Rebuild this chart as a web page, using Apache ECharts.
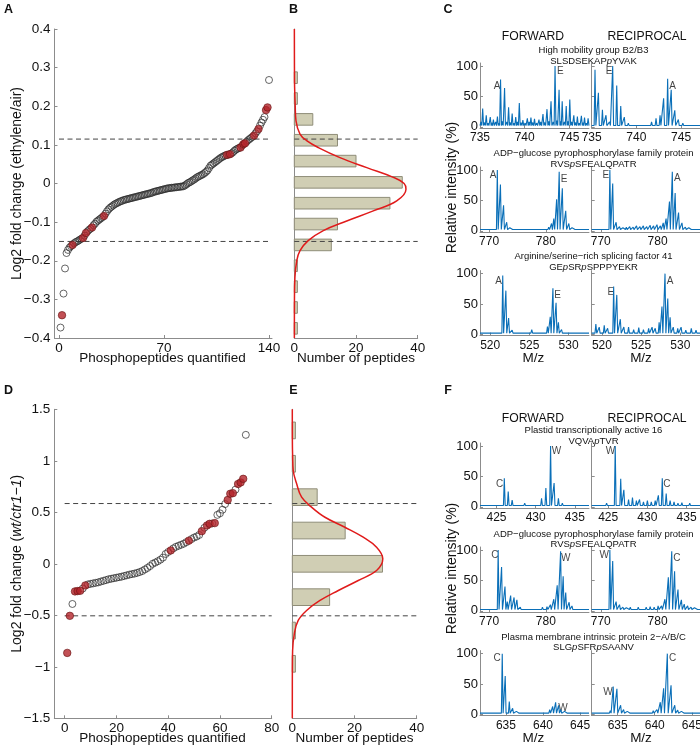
<!DOCTYPE html>
<html>
<head>
<meta charset="utf-8">
<script src="https://cdn.jsdelivr.net/npm/echarts@6/dist/echarts.min.js"></script>
<style>
html, body { margin: 0; padding: 0; background: #fff; }
#main { width: 700px; height: 747px; }
</style>
</head>
<body>
<div id="main"></div>
<script>
// ---- panel A : sorted log2 ratios (ethylene/air), index 1..140
var aVals = [-0.373,-0.341,-0.285,-0.220,-0.180,-0.172,-0.166,-0.162,-0.159,-0.155,
  -0.152,-0.150,-0.148,-0.145,-0.143,-0.141,-0.135,-0.128,-0.124,-0.120,
  -0.117,-0.114,-0.108,-0.104,-0.099,-0.096,-0.093,-0.090,-0.087,-0.084,
  -0.078,-0.072,-0.067,-0.063,-0.060,-0.057,-0.054,-0.052,-0.050,-0.048,
  -0.046,-0.045,-0.043,-0.042,-0.041,-0.040,-0.039,-0.038,-0.037,-0.036,
  -0.035,-0.034,-0.033,-0.032,-0.031,-0.030,-0.029,-0.028,-0.027,-0.026,
  -0.025,-0.024,-0.022,-0.021,-0.020,-0.019,-0.018,-0.017,-0.016,-0.015,
  -0.014,-0.013,-0.012,-0.012,-0.011,-0.011,-0.010,-0.010,-0.009,-0.009,
  -0.008,-0.008,-0.007,-0.005,-0.002,0.001,0.003,0.005,0.008,0.010,
  0.013,0.016,0.018,0.020,0.022,0.024,0.027,0.030,0.034,0.040,
  0.046,0.049,0.052,0.055,0.058,0.061,0.064,0.067,0.069,0.071,
  0.073,0.074,0.075,0.076,0.078,0.081,0.085,0.088,0.090,0.092,
  0.093,0.098,0.102,0.104,0.108,0.112,0.115,0.118,0.121,0.124,
  0.130,0.135,0.141,0.150,0.158,0.165,0.172,0.190,0.197,0.268];
var aRed = [2, 9, 16, 18, 22, 30, 112, 114, 121, 123, 124, 130, 133, 138, 139];
var aThr = [0.115, -0.15];
var aXTicks = [0, 70, 140];
var aYTicks = [-0.4, -0.3, -0.2, -0.1, 0, 0.1, 0.2, 0.3, 0.4];

// ---- panel B : histogram of A
var bBins = [0.274, 0.220, 0.166, 0.112, 0.058, 0.003, -0.051, -0.105, -0.159, -0.213, -0.267, -0.321, -0.375];
var bCounts = [1, 1, 6, 14, 20, 35, 31, 14, 12, 1, 1, 1, 1];
var bFitCount = [0.02, 0.05, 0.1, 0.3, 0.55, 1.85, 4.0, 7.8, 14.8, 23.5, 32.1, 35.6, 36.2, 33.2, 25.6, 17.0, 9.4, 4.5, 1.85, 0.8, 0.2, 0.05, 0.02];
var bFitValue = [0.40, 0.30, 0.25, 0.20, 0.162, 0.128, 0.111, 0.093, 0.067, 0.041, 0.016, 0.0, -0.015, -0.045, -0.071, -0.097, -0.122, -0.148, -0.174, -0.200, -0.243, -0.30, -0.40];
var bXTicks = [0, 20, 40];

// ---- panel D : sorted log2 ratios (wt/ctr1-1), index 1..70
var dVals = [-0.865,-0.505,-0.390,-0.268,-0.265,-0.262,-0.240,-0.210,-0.200,-0.195,
  -0.190,-0.185,-0.180,-0.172,-0.165,-0.158,-0.150,-0.145,-0.140,-0.135,
  -0.130,-0.125,-0.118,-0.112,-0.105,-0.100,-0.095,-0.088,-0.080,-0.070,
  -0.055,-0.040,-0.022,0.000,0.012,0.025,0.040,0.060,0.095,0.115,
  0.130,0.150,0.165,0.175,0.185,0.195,0.210,0.225,0.240,0.255,
  0.265,0.280,0.317,0.350,0.372,0.388,0.392,0.395,0.475,0.490,
  0.525,0.580,0.620,0.680,0.686,0.720,0.775,0.790,0.825,1.252];
var dRed = [1, 2, 4, 5, 6, 8, 41, 48, 53, 55, 56, 58, 63, 64, 65, 67, 68, 69];
var dThr = [0.585, -0.505];
var dXTicks = [0, 20, 40, 60, 80];
var dYTicks = [-1.5, -1, -0.5, 0, 0.5, 1, 1.5];

// ---- panel E : histogram of D
var eBins = [1.295, 0.971, 0.647, 0.323, 0.0, -0.324, -0.648, -0.971];
var eCounts = [1, 1, 8, 17, 29, 12, 1, 1];
var eFitCount = [0, 0.02, 0.1, 0.3, 1.4, 3.0, 6.2, 10.5, 16.9, 22.8, 27.1, 29.1, 27.1, 21.2, 14.8, 8.9, 4.6, 1.9, 0.65, 0.1, 0.02, 0];
var eFitValue = [1.5, 1.2, 1.05, 0.906, 0.777, 0.647, 0.55, 0.452, 0.355, 0.258, 0.161, 0.049, -0.065, -0.162, -0.259, -0.356, -0.453, -0.55, -0.68, -0.842, -1.036, -1.5];
var eXTicks = [0, 20, 40];

// ---- spectra, panel C
var specYTicks = [0, 50, 100];
var c1Range = [735, 747.2], c1Ticks = [735, 740, 745];
var c1fMz = [735.1,735.3,735.5,735.7,735.9,736.15,736.3,736.5,736.75,736.95,737.1,737.3,737.5,737.75,738.0,738.2,738.4,738.6,738.8,739.0,739.2,739.4,739.6,739.8,740.05,740.3,740.5,740.7,740.9,741.1,741.35,741.6,741.8,742.05,742.25,742.5,742.7,742.95,743.2,743.4,743.6,743.85,744.0,744.2,744.45,744.65,744.85,745.05,745.25,745.5,745.7,745.9,746.1,746.35,746.5,746.7,746.9,747.1];
var c1fInt = [8,30,7,19,6,16,7,12,8,17,6,78,9,64,8,32,7,22,6,16,8,39,7,11,6,14,8,15,7,13,6,12,8,21,7,29,9,42,8,100,10,61,9,42,8,34,9,45,8,19,7,17,6,18,7,15,6,14];
var c1fLab = [[736.9, 67, 'A'], [744.0, 92, 'E']];
var c1rMz = [735.37,735.75,736.2,736.6,737.0,737.35,737.8,738.25,738.65,739.1,739.6,740.1,740.6,741.1,741.7,742.2,742.65,743.05,743.5,743.9,744.3,744.7,745.2,745.7,746.2,746.7,747.1];
var c1rInt = [94,56,28,19,8,100,68,34,16,6,5,4,5,4,8,14,19,47,79,61,27,12,6,5,4,5,4];
var c1rLab = [[736.95, 92, 'E'], [744.05, 67, 'A']];

var c2Range = [768.4, 787.6], c2Ticks = [770, 780];
var c2fMz = [769.0,769.8,770.6,771.45,772.0,772.55,773.1,773.65,774.3,775.0,776.0,777.0,778.0,778.8,779.4,780.0,780.5,781.0,781.4,781.9,782.35,782.9,783.5,784.05,784.6,785.3,786.2,787.0];
var c2fInt = [3,4,3,100,76,42,14,5,3,4,3,3,4,3,5,4,6,12,20,52,97,70,33,12,5,3,3,3];
var c2fLab = [[770.7, 92, 'A'], [783.2, 85, 'E']];
var c2rMz = [769.0,769.8,770.7,771.6,772.1,772.7,773.3,773.9,774.5,775.1,775.7,776.3,776.9,777.5,778.1,778.7,779.3,779.9,780.5,781.0,781.5,782.1,782.6,783.1,783.7,784.3,784.9,785.5,786.1,786.8,787.4];
var c2rInt = [4,5,4,100,78,14,7,5,6,7,6,8,7,8,7,9,8,10,8,13,20,48,97,62,30,13,6,5,4,5,4];
var c2rLab = [[770.9, 92, 'E'], [783.5, 87, 'A']];

var c3Range = [518.7, 532.6], c3Ticks = [520, 525, 530];
var c3fMz = [519.2,519.8,520.4,521.0,521.6,522.0,522.35,522.8,523.3,524.0,524.7,525.3,526.0,526.7,527.3,527.66,528.0,528.4,528.7,529.1,529.6,530.3,531.0,531.7,532.3];
var c3fInt = [3,4,3,4,97,72,27,7,4,3,4,8,3,5,13,29,76,52,20,8,4,3,4,3,3];
var c3fLab = [[521.06, 88, 'A'], [528.6, 65, 'E']];
var c3rMz = [519.23,519.66,520.3,520.73,521.5,521.9,522.35,522.8,523.4,524.05,524.7,525.3,525.96,526.4,526.8,527.3,527.66,528.05,528.4,528.7,529.1,529.67,530.1,530.7,531.4,532.0];
var c3rInt = [17,12,15,10,79,65,25,12,12,8,11,8,10,12,10,20,46,100,59,28,12,10,12,7,10,7];
var c3rLab = [[521.15, 70, 'E'], [528.7, 88, 'A']];

// ---- spectra, panel F
var f1Range = [422.9, 436.8], f1Ticks = [425, 430, 435];
var f1fMz = [423.3,423.8,424.4,425.0,425.5,426.0,426.5,427.0,427.5,428.0,428.6,429.1,429.6,430.2,430.75,431.3,431.9,432.35,432.9,433.4,433.9,434.5,435.1,435.7,436.3];
var f1fInt = [4,3,4,3,5,47,25,11,5,3,6,4,3,5,14,31,100,39,14,6,4,3,4,3,4];
var f1fLab = [[425.4, 37, 'C'], [432.65, 91, 'W']];
var f1rMz = [423.3,423.8,424.3,424.8,425.3,425.9,426.6,427.0,427.6,428.1,428.6,429.0,429.5,430.0,430.5,431.0,431.4,431.9,432.4,432.9,433.4,433.9,434.4,434.9,435.4,435.9,436.4];
var f1rInt = [4,5,4,6,5,100,46,28,12,15,10,12,8,10,8,10,19,47,22,10,8,6,7,5,6,5,5];
var f1rLab = [[425.3, 91, 'W'], [432.5, 37, 'C']];

var f2Range = [768.4, 787.6], f2Ticks = [770, 780];
var f2fMz = [769.0,769.8,770.6,771.6,772.2,772.8,773.2,773.8,774.4,774.9,775.5,776.2,777.0,777.8,778.6,779.4,780.2,780.8,781.4,782.0,782.6,783.05,783.5,784.1,784.6,785.3,786.0,786.8,787.3];
var f2fInt = [4,3,4,100,72,40,15,25,22,18,6,4,5,4,5,6,7,10,19,42,98,57,30,14,8,5,4,3,4];
var f2fLab = [[771.0, 91, 'C'], [783.5, 87, 'W']];
var f2rMz = [769.0,769.8,770.7,771.6,772.1,772.7,773.3,773.9,774.5,775.2,775.9,776.6,777.3,778.0,778.7,779.4,780.1,780.7,781.3,781.9,782.5,783.0,783.6,784.2,784.7,785.3,785.9,786.5,787.2];
var f2rInt = [4,5,4,100,82,15,10,6,5,6,5,6,5,6,7,6,8,8,19,55,98,65,35,18,11,8,6,5,4];
var f2rLab = [[770.6, 91, 'W'], [783.4, 87, 'C']];

var f3Range = [631.5, 646.2], f3Ticks = [635, 640, 645];
var f3fMz = [632.0,632.5,633.0,633.6,634.1,634.5,634.9,635.45,635.9,636.4,636.9,637.5,638.1,638.7,639.3,639.9,640.5,640.9,641.3,641.7,642.1,642.4,642.9,643.4,644.0,644.6,645.2,645.8];
var f3fInt = [4,3,4,3,5,100,63,21,10,5,4,3,4,3,4,3,5,8,13,20,15,8,5,4,3,4,3,4];
var f3fLab = [[633.8, 92, 'C'], [642.7, 10, 'W']];
var f3rMz = [632.0,632.5,633.0,633.5,634.0,634.4,634.9,635.4,635.8,636.3,636.8,637.3,637.8,638.3,638.8,639.3,639.8,640.3,640.75,641.2,641.7,642.2,642.7,643.1,643.6,644.1,644.6,645.1,645.7];
var f3rInt = [4,5,4,5,6,46,42,15,8,5,4,5,4,5,4,5,6,8,20,43,100,48,15,7,5,4,5,4,4];
var f3rLab = [[633.7, 37, 'W'], [642.4, 92, 'C']];

// ---- styling
var FONT = '"Liberation Sans", Arial, Helvetica, sans-serif';
var AXIS = '#8c8c8c';
var TXT = '#111';
var RED_DOT = '#b3242a';
var BAR = '#d0ceb4';
var BAR_EDGE = '#8f8d78';
var FIT = '#e01b1b';
var SPEC = '#0a6fb8';
var BASE = 2;        // spectrum baseline (%)
var PW_FRAC = 0.008; // half width of a profile peak, as a fraction of the m/z window

function fmt(v) {
    return String(Math.round(v * 100) / 100).replace('-', '\u2212');
}

function gridOf(left, top, width, height) {
    return {left: left, top: top, width: width, height: height, containLabel: false, outerBoundsMode: 'none'};
}

function vAxis(gi, min, max, ticks, o) {
    o = o || {};
    return {
        type: 'value', gridIndex: gi, min: min, max: max,
        axisLine: {show: true, onZero: false, lineStyle: {color: AXIS, width: 1}},
        axisTick: {show: !!ticks, inside: true, length: 3, customValues: ticks || undefined, lineStyle: {color: AXIS}},
        axisLabel: {show: !!ticks && !o.noLabel, customValues: ticks || undefined, margin: o.margin == null ? 4 : o.margin,
            fontSize: o.fs || 13.5, color: TXT, fontFamily: FONT, formatter: fmt},
        splitLine: {show: false}
    };
}

function trace(mz, inten, range) {
    var pw = (range[1] - range[0]) * PW_FRAC;
    var pts = [[range[0], BASE]];
    for (var i = 0; i < mz.length; i++) {
        pts.push([mz[i] - pw, BASE], [mz[i], inten[i]], [mz[i] + pw, BASE]);
    }
    pts.push([range[1], BASE]);
    return pts;
}

var grids = [
    gridOf(54.5, 29, 217.5, 309),     // A
    gridOf(294.3, 29, 123.4, 309),    // B
    gridOf(54.3, 409.3, 217.4, 309),  // D
    gridOf(292.3, 409.3, 124.4, 309)  // E
];
var xAxes = [
    vAxis(0, -3, 142, aXTicks, {margin: 3}),
    vAxis(1, 0, 40, bXTicks, {margin: 3}),
    vAxis(2, -4, 80, dXTicks, {margin: 3}),
    vAxis(3, 0, 40, eXTicks, {margin: 3})
];
var yAxes = [
    vAxis(0, -0.4, 0.4, aYTicks),
    vAxis(1, -0.4, 0.4, null),
    vAxis(2, -1.5, 1.5, dYTicks),
    vAxis(3, -1.5, 1.5, null)
];

var series = [];

function histPanel(gi, bins, counts, half, fitC, fitV, thr, xmax) {
    series.push({
        type: 'custom', xAxisIndex: gi, yAxisIndex: gi, z: 2,
        data: bins.map(function (c, i) { return [counts[i], c]; }),
        renderItem: function (params, api) {
            var p0 = api.coord([0, api.value(1) + half]);
            var p1 = api.coord([api.value(0), api.value(1) - half]);
            return {type: 'rect', shape: {x: p0[0], y: p0[1], width: p1[0] - p0[0], height: p1[1] - p0[1]},
                style: {fill: BAR, stroke: BAR_EDGE, lineWidth: 1}};
        }
    });
    thr.forEach(function (t) {
        series.push({type: 'line', xAxisIndex: gi, yAxisIndex: gi, z: 3, symbol: 'none', silent: true,
            data: [[0, t], [xmax, t]], lineStyle: {color: '#444', width: 1, type: [5, 3.5]}});
    });
    series.push({type: 'line', xAxisIndex: gi, yAxisIndex: gi, z: 4, symbol: 'none', smooth: 0.4,
        data: fitC.map(function (c, i) { return [c, fitV[i]]; }),
        lineStyle: {color: FIT, width: 1.5}});
}

function scatterPanel(gi, vals, red, thr, xmax) {
    thr.forEach(function (t) {
        series.push({type: 'line', xAxisIndex: gi, yAxisIndex: gi, z: 2, symbol: 'none', silent: true,
            data: [[0, t], [xmax, t]], lineStyle: {color: '#444', width: 1, type: [5, 3.5]}});
    });
    series.push({type: 'scatter', xAxisIndex: gi, yAxisIndex: gi, z: 3, symbol: 'circle', symbolSize: 7,
        data: vals.map(function (v, i) { return [i + 1, v]; }).filter(function (p) { return red.indexOf(p[0]) < 0; }),
        itemStyle: {color: 'rgba(255,255,255,0)', borderColor: '#2a2a2a', borderWidth: 0.9}});
    series.push({type: 'scatter', xAxisIndex: gi, yAxisIndex: gi, z: 4, symbol: 'circle', symbolSize: 7.5,
        data: red.map(function (k) { return [k, vals[k - 1]]; }),
        itemStyle: {color: RED_DOT, borderColor: '#6a1515', borderWidth: 0.8}});
}

scatterPanel(0, aVals, aRed, aThr, 140);
histPanel(1, bBins, bCounts, 0.015, bFitCount, bFitValue, aThr, 40);
scatterPanel(2, dVals, dRed, dThr, 80);
histPanel(3, eBins, eCounts, 0.081, eFitCount, eFitValue, dThr, 40);

// spectra layout: columns (forward / reciprocal), rows by zero-line
var COL_L = [480, 591.7], COL_W = 109;
var ROW_TOP = [63.0, 167.0, 270.6, 443.0, 547.0, 650.6], ROW_H = 65;
var spectra = [
    [c1fMz, c1fInt, c1fLab, c1Range, c1Ticks], [c1rMz, c1rInt, c1rLab, c1Range, c1Ticks],
    [c2fMz, c2fInt, c2fLab, c2Range, c2Ticks], [c2rMz, c2rInt, c2rLab, c2Range, c2Ticks],
    [c3fMz, c3fInt, c3fLab, c3Range, c3Ticks], [c3rMz, c3rInt, c3rLab, c3Range, c3Ticks],
    [f1fMz, f1fInt, f1fLab, f1Range, f1Ticks], [f1rMz, f1rInt, f1rLab, f1Range, f1Ticks],
    [f2fMz, f2fInt, f2fLab, f2Range, f2Ticks], [f2rMz, f2rInt, f2rLab, f2Range, f2Ticks],
    [f3fMz, f3fInt, f3fLab, f3Range, f3Ticks], [f3rMz, f3rInt, f3rLab, f3Range, f3Ticks]
];
spectra.forEach(function (s, k) {
    var gi = grids.length;
    var col = k % 2, row = Math.floor(k / 2);
    grids.push(gridOf(COL_L[col], ROW_TOP[row], COL_W, ROW_H));
    xAxes.push(vAxis(gi, s[3][0], s[3][1], s[4], {fs: 12, margin: 4}));
    yAxes.push(vAxis(gi, -2, 105, specYTicks, {fs: 13, margin: 2, noLabel: col === 1}));
    series.push({type: 'line', xAxisIndex: gi, yAxisIndex: gi, symbol: 'none', silent: true,
        data: trace(s[0], s[1], s[3]), lineStyle: {color: SPEC, width: 1.1}});
    series.push({type: 'scatter', xAxisIndex: gi, yAxisIndex: gi, symbolSize: 1, silent: true,
        data: s[2], itemStyle: {color: 'rgba(0,0,0,0)'},
        label: {show: true, position: 'inside', formatter: function (p) { return p.data[2]; },
            fontSize: 10, color: TXT, fontFamily: FONT}});
});

// texts
function txt(x, y, text, size, o) {
    o = o || {};
    return {type: 'text', x: x, y: y, rotation: o.rot || 0, z: 100,
        style: {text: text, fontSize: size, fontFamily: FONT, fontWeight: o.bold ? 'bold' : 'normal',
            fill: TXT, align: o.align || 'center', verticalAlign: 'middle',
            rich: {i: {fontStyle: 'italic', fontSize: size, fontFamily: FONT, fill: TXT}}}};
}
var R90 = Math.PI / 2;
var graphics = [
    txt(8.5, 10, 'A', 12.5, {bold: true}), txt(293.5, 10, 'B', 12.5, {bold: true}), txt(448, 10, 'C', 12.5, {bold: true}),
    txt(8.5, 390.5, 'D', 12.5, {bold: true}), txt(293.5, 390.5, 'E', 12.5, {bold: true}), txt(448, 390.5, 'F', 12.5, {bold: true}),
    txt(16.7, 183.5, 'Log2 fold change (ethylene/air)', 14, {rot: R90}),
    txt(16.7, 563.8, 'Log2 fold change ({i|wt/ctr1\u22121})', 14, {rot: R90}),
    txt(162.5, 358, 'Phosphopeptides quantified', 13.5), txt(356, 358, 'Number of peptides', 13.5),
    txt(162.5, 738.3, 'Phosphopeptides quantified', 13.5), txt(354.5, 738.3, 'Number of peptides', 13.5),
    txt(452, 187.5, 'Relative intensity (%)', 14, {rot: R90}), txt(452, 568.5, 'Relative intensity (%)', 14, {rot: R90}),
    txt(533.3, 358.3, 'M/z', 13.5), txt(641, 358.3, 'M/z', 13.5),
    txt(533.3, 738, 'M/z', 13.5), txt(641, 738, 'M/z', 13.5),
    txt(533, 37, 'FORWARD', 12.2), txt(647, 37, 'RECIPROCAL', 12.2),
    txt(533, 418.3, 'FORWARD', 12.2), txt(647, 418.3, 'RECIPROCAL', 12.2),
    txt(593.5, 50, 'High mobility group B2/B3', 9.5), txt(593.5, 61, 'SLSDSEKAP{i|p}YVAK', 9.5),
    txt(593.5, 153, 'ADP\u2212glucose pyrophosphorylase family protein', 9.5), txt(593.5, 164, 'RVS{i|p}SFEALQPATR', 9.5),
    txt(593.5, 256, 'Arginine/serine\u2212rich splicing factor 41', 9.5), txt(593.5, 267, 'GE{i|p}SR{i|p}SPPPYEKR', 9.5),
    txt(593.5, 430.7, 'Plastid transcriptionally active 16', 9.5), txt(593.5, 441, 'VQVA{i|p}TVR', 9.5),
    txt(593.5, 534.3, 'ADP\u2212glucose pyrophosphorylase family protein', 9.5), txt(593.5, 544.3, 'RVS{i|p}SFEALQPATR', 9.5),
    txt(593.5, 637.3, 'Plasma membrane intrinsic protein 2\u2212A/B/C', 9.5), txt(593.5, 647.3, 'SLG{i|p}SFR{i|p}SAANV', 9.5)
];

var chart = echarts.init(document.getElementById('main'));
chart.setOption({
    animation: false,
    backgroundColor: '#fff',
    grid: grids,
    xAxis: xAxes,
    yAxis: yAxes,
    series: series,
    graphic: graphics
});
</script>
</body>
</html>
